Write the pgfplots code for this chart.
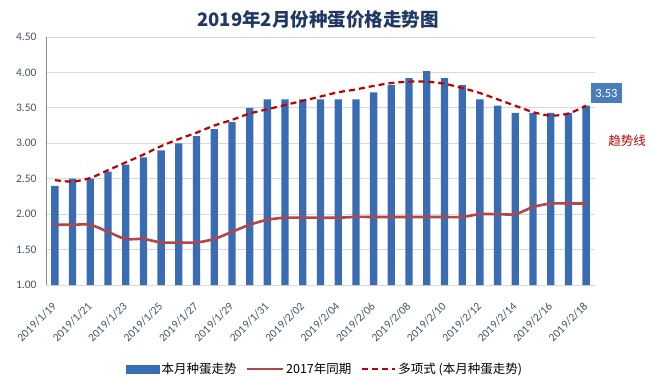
\documentclass[border=0pt]{standalone}
\usepackage{pgfplots}
\pgfplotsset{compat=1.18}
\usepackage{fontspec}
\setmainfont{Carlito}
\newfontfamily\cjk{Noto Sans CJK SC}
\definecolor{barblue}{HTML}{3A6CB4}
\definecolor{line17}{HTML}{B0474A}
\definecolor{trendred}{HTML}{C00000}
\definecolor{titleblue}{HTML}{1F3864}
\definecolor{labelblue}{HTML}{4A7EBB}
\definecolor{ticktext}{HTML}{44546A}
\definecolor{gridgray}{HTML}{D9D9D9}
\definecolor{axisgray}{HTML}{8C8C8C}
\begin{document}
\begin{tikzpicture}[x=1pt,y=1pt]
\path[use as bounding box] (0,0) rectangle (651,386);
\begin{axis}[
  at={(46pt,101pt)}, anchor=south west,
  scale only axis, width=549pt, height=248pt,
  xmin=-0.5, xmax=30.5, ymin=1, ymax=4.5,
  ytick={1,1.5,2,2.5,3,3.5,4,4.5},
  /pgf/number format/fixed, /pgf/number format/fixed zerofill, /pgf/number format/precision=2,
  /pgf/number format/assume math mode=true,
  xtick={0,2,4,6,8,10,12,14,16,18,20,22,24,26,28,30},
  xticklabels={2019/1/19,2019/1/21,2019/1/23,2019/1/25,2019/1/27,2019/1/29,2019/1/31,2019/2/02,2019/2/04,2019/2/06,2019/2/08,2019/2/10,2019/2/12,2019/2/14,2019/2/16,2019/2/18},
  x tick label style={xshift=2pt, yshift=-17pt, rotate=45, anchor=east, font=\fontsize{11.5}{13}\selectfont, text=ticktext},
  y tick label style={font=\fontsize{11.5}{13}\selectfont, text=ticktext, xshift=-6pt},
  major tick length=0pt,
  ymajorgrids, grid style={gridgray, line width=0.8pt},
  axis x line*=bottom, axis y line*=left,
  x axis line style={gridgray, line width=0.8pt, -},
  y axis line style={axisgray, line width=0.8pt, -},
  legend style={at={(axis description cs:0.508,-0.339)}, anchor=center, legend columns=3, draw=none, fill=none,
    font=\cjk\fontsize{12.5}{14}\selectfont,
    /tikz/every even column/.append style={column sep=8pt}},
]
\addplot[ybar, bar width=7.3pt, fill=barblue, draw=none,
  legend image code/.code={\fill[barblue] (0pt,-4.5pt) rectangle (34pt,4.5pt);}]
coordinates {(0,2.40)(1,2.50)(2,2.50)(3,2.60)(4,2.70)(5,2.80)(6,2.90)(7,3.00)(8,3.10)(9,3.20)(10,3.30)(11,3.50)(12,3.62)(13,3.62)(14,3.62)(15,3.62)(16,3.62)(17,3.62)(18,3.72)(19,3.82)(20,3.92)(21,4.02)(22,3.92)(23,3.82)(24,3.62)(25,3.53)(26,3.43)(27,3.43)(28,3.43)(29,3.43)(30,3.53)};
\addlegendentry{本月种蛋走势}
\addplot[line17, line width=2.6pt, smooth, tension=0.5,
  legend image code/.code={\draw[line17, line width=1.5pt] (0pt,0pt) -- (36pt,0pt);}]
coordinates {(0,1.85)(1,1.85)(2,1.85)(3,1.75)(4,1.65)(5,1.65)(6,1.60)(7,1.60)(8,1.60)(9,1.65)(10,1.75)(11,1.85)(12,1.92)(13,1.95)(14,1.95)(15,1.95)(16,1.95)(17,1.96)(18,1.96)(19,1.96)(20,1.96)(21,1.96)(22,1.96)(23,1.96)(24,2.00)(25,2.00)(26,2.00)(27,2.10)(28,2.15)(29,2.15)(30,2.15)};
\addlegendentry{2017年同期}
\addplot[trendred, line width=2.2pt, dash pattern=on 6pt off 4pt, smooth,
  legend image code/.code={\draw[trendred, line width=2pt, dash pattern=on 6pt off 4pt] (0pt,0pt) -- (33pt,0pt);}]
coordinates {(0,2.48)(1,2.46)(2,2.51)(3,2.62)(4,2.73)(5,2.84)(6,2.96)(7,3.06)(8,3.15)(9,3.25)(10,3.33)(11,3.42)(12,3.48)(13,3.54)(14,3.60)(15,3.66)(16,3.72)(17,3.76)(18,3.81)(19,3.85)(20,3.87)(21,3.87)(22,3.84)(23,3.78)(24,3.71)(25,3.62)(26,3.53)(27,3.44)(28,3.39)(29,3.42)(30,3.53)};
\addlegendentry{多项式 (本月种蛋走势)}
\end{axis}
\node[font=\cjk\bfseries\fontsize{18.5}{21}\selectfont, text=titleblue] at (318,366) {2019年2月份种蛋价格走势图};
\node[fill=labelblue, text=white, font=\fontsize{12.5}{14}\selectfont, minimum width=31pt, minimum height=20pt, inner sep=2pt] at (606.5,293) {3.53};
\node[font=\cjk\fontsize{12.5}{14}\selectfont, text=trendred] at (627,245.5) {趋势线};
\end{tikzpicture}
\end{document}
